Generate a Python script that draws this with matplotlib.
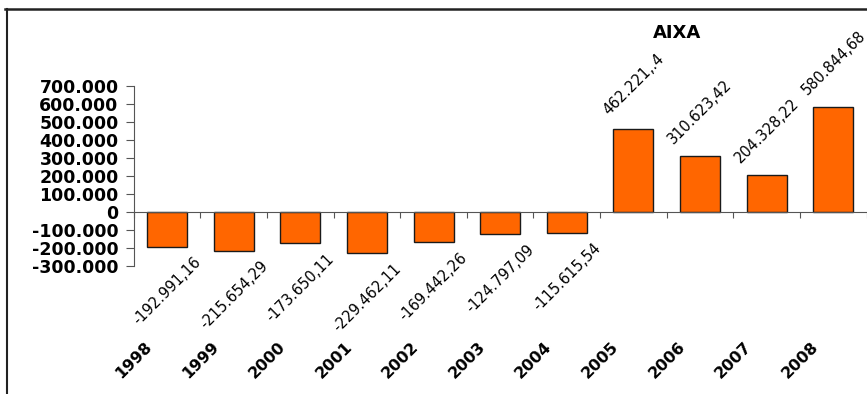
import matplotlib
matplotlib.use("Agg")
import matplotlib.pyplot as plt
from matplotlib.lines import Line2D
from matplotlib.ticker import FixedLocator

years = ["1998", "1999", "2000", "2001", "2002", "2003", "2004", "2005", "2006", "2007", "2008"]
values = [-192991.16, -215654.29, -173650.11, -229462.11, -169442.26, -124797.09,
          -115615.54, 462221.4, 310623.42, 204328.22, 580844.68]
value_labels = ["-192.991,16", "-215.654,29", "-173.650,11", "-229.462,11", "-169.442,26",
                "-124.797,09", "-115.615,54", "462.221,.4", "310.623,42", "204.328,22", "580.844,68"]
yticks = [-300000, -200000, -100000, 0, 100000, 200000, 300000, 400000, 500000, 600000, 700000]
ytick_labels = ["-300.000", "-200.000", "-100.000", "0", "100.000", "200.000", "300.000",
                "400.000", "500.000", "600.000", "700.000"]
title = "AIXA"

plt.rcParams['font.family'] = ['DejaVu Sans']
fig = plt.figure(figsize=(8.67, 3.94), dpi=100)
ax = fig.add_axes([0.1543, 0.3249, 0.8452, 0.4568])

x = list(range(len(years)))
ax.bar(x, values, width=0.6, color="#FF6600", edgecolor="#1a1a1a", linewidth=1.0, zorder=3)

ax.set_xlim(-0.5, len(years) - 0.5)
ax.set_ylim(-300000, 700000)

for s in ["top", "right"]:
    ax.spines[s].set_visible(False)
ax.spines["bottom"].set_position(("data", 0))
ax.spines["bottom"].set_color("#555555")
ax.spines["left"].set_color("#555555")
ax.spines["bottom"].set_zorder(4)

ax.yaxis.set_major_locator(FixedLocator(yticks))
ax.set_yticklabels(ytick_labels, fontsize=12.5, fontweight="heavy")
ax.tick_params(axis="y", direction="out", length=6, color="#555555", pad=5)

ax.xaxis.set_major_locator(FixedLocator([i - 0.5 for i in range(len(years) + 1)]))
ax.set_xticklabels([])
ax.tick_params(axis="x", direction="out", length=4, color="#555555")

for xi, v, lab in zip(x, values, value_labels):
    off = 32 if v > 0 else -32
    ax.annotate(lab, xy=(xi, v), xytext=(0, off), textcoords="offset points",
                ha="center", va="center", rotation=45, fontsize=10.5, color="black",
                annotation_clip=False)

for xi, yr in zip(x, years):
    ax.annotate(yr, xy=(xi, 0), xycoords=("data", "axes fraction"),
                xytext=(-23.8, -67.7), textcoords="offset points",
                ha="center", va="center", rotation=45, fontsize=11.5, fontweight="heavy",
                annotation_clip=False)

fig.text(677.5 / 867, 1 - 33 / 394, title, ha="center", va="center",
         fontsize=13, fontweight="bold")

fig.add_artist(Line2D([5 / 867, 1.0], [1 - 8.5 / 394, 1 - 8.5 / 394], color="#222222", linewidth=1.8))
fig.add_artist(Line2D([7 / 867, 7 / 867], [1 - 8.5 / 394, 0.0], color="#222222", linewidth=1.5))

fig.savefig("out.png", dpi=100)
